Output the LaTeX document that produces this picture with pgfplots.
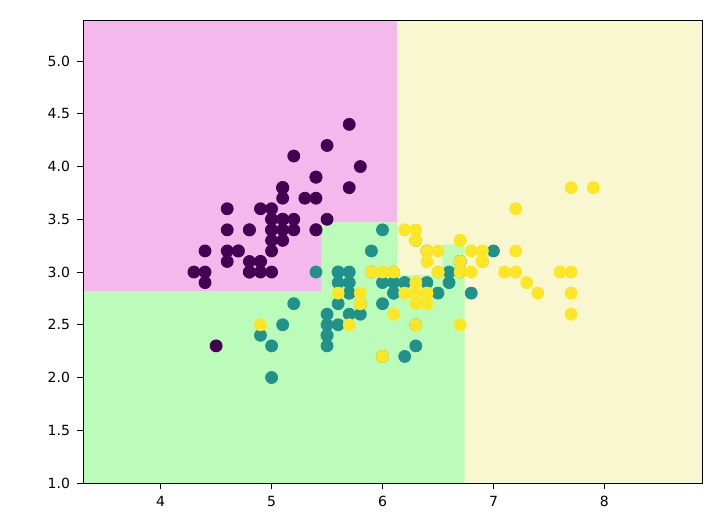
\documentclass[border=0pt]{standalone}
\usepackage{fontspec}
\setmainfont{DejaVu Sans}
\usepackage{pgfplots}
\pgfplotsset{compat=1.18}
\definecolor{regA}{HTML}{F4B8EC}
\definecolor{regB}{HTML}{BBFCBB}
\definecolor{regC}{HTML}{F9F7CF}
\definecolor{c0}{HTML}{440154}
\definecolor{c1}{HTML}{21918C}
\definecolor{c2}{HTML}{FDE725}
\begin{document}
\begin{tikzpicture}
\begin{axis}[name=ax, scale only axis, width=309.5pt, height=231pt,
  xmin=3.3, xmax=8.88, ymin=1, ymax=5.38,
  xtick={4,5,6,7,8}, ytick={1,1.5,2,2.5,3,3.5,4,4.5,5},
  yticklabel style={/pgf/number format/.cd, fixed, fixed zerofill, precision=1},
  tick align=outside, tick pos=left, major tick length=3pt,
  tick style={black, line width=0.5pt},
  axis line style={line width=0.5pt},
  ticklabel style={font=\fontsize{7}{8}\selectfont},
  /pgf/number format/assume math mode=true,
  axis background/.style={fill=regC},
  axis on top,
  clip=true]
\addplot[fill=regA, draw=none] coordinates {(3.3,2.82) (5.45,2.82) (5.45,3.47) (6.13,3.47) (6.13,5.38) (3.3,5.38)} -- cycle;
\addplot[fill=regB, draw=none] coordinates {(3.3,1) (6.74,1) (6.74,3.26) (6.54,3.26) (6.54,2.97) (6.13,2.97) (6.13,3.47) (5.45,3.47) (5.45,2.82) (3.3,2.82)} -- cycle;
\addplot[only marks, mark=*, mark size=3pt, mark options={fill=c0, draw=c0}] coordinates {
(5.1,3.5) (4.9,3.0) (4.7,3.2) (4.6,3.1) (5.0,3.6) (5.4,3.9) (4.6,3.4) (5.0,3.4) (4.4,2.9) (4.9,3.1)
(5.4,3.7) (4.8,3.4) (4.8,3.0) (4.3,3.0) (5.8,4.0) (5.7,4.4) (5.4,3.9) (5.1,3.5) (5.7,3.8) (5.1,3.8)
(5.4,3.4) (5.1,3.7) (4.6,3.6) (5.1,3.3) (4.8,3.4) (5.0,3.0) (5.0,3.4) (5.2,3.5) (5.2,3.4) (4.7,3.2)
(4.8,3.1) (5.4,3.4) (5.2,4.1) (5.5,4.2) (4.9,3.1) (5.0,3.2) (5.5,3.5) (4.9,3.6) (4.4,3.0) (5.1,3.4)
(5.0,3.5) (4.5,2.3) (4.4,3.2) (5.0,3.5) (5.1,3.8) (4.8,3.0) (5.1,3.8) (4.6,3.2) (5.3,3.7) (5.0,3.3)};
\addplot[only marks, mark=*, mark size=3pt, mark options={fill=c1, draw=c1}] coordinates {
(7.0,3.2) (6.4,3.2) (6.9,3.1) (5.5,2.3) (6.5,2.8) (5.7,2.8) (6.3,3.3) (4.9,2.4) (6.6,2.9) (5.2,2.7)
(5.0,2.0) (5.9,3.0) (6.0,2.2) (6.1,2.9) (5.6,2.9) (6.7,3.1) (5.6,3.0) (5.8,2.7) (6.2,2.2) (5.6,2.5)
(5.9,3.2) (6.1,2.8) (6.3,2.5) (6.1,2.8) (6.4,2.9) (6.6,3.0) (6.8,2.8) (6.7,3.0) (6.0,2.9) (5.7,2.6)
(5.5,2.4) (5.5,2.4) (5.8,2.7) (6.0,2.7) (5.4,3.0) (6.0,3.4) (6.7,3.1) (6.3,2.3) (5.6,3.0) (5.5,2.5)
(5.5,2.6) (6.1,3.0) (5.8,2.6) (5.0,2.3) (5.6,2.7) (5.7,3.0) (5.7,2.9) (6.2,2.9) (5.1,2.5) (5.7,2.8)};
\addplot[only marks, mark=*, mark size=3pt, mark options={fill=c2, draw=c2}] coordinates {
(6.3,3.3) (5.8,2.7) (7.1,3.0) (6.3,2.9) (6.5,3.0) (7.6,3.0) (4.9,2.5) (7.3,2.9) (6.7,2.5) (7.2,3.6)
(6.5,3.2) (6.4,2.7) (6.8,3.0) (5.7,2.5) (5.8,2.8) (6.4,3.2) (6.5,3.0) (7.7,3.8) (7.7,2.6) (6.0,2.2)
(6.9,3.2) (5.6,2.8) (7.7,2.8) (6.3,2.7) (6.7,3.3) (7.2,3.2) (6.2,2.8) (6.1,3.0) (6.4,2.8) (7.2,3.0)
(7.4,2.8) (7.9,3.8) (6.4,2.8) (6.3,2.8) (6.1,2.6) (7.7,3.0) (6.3,3.4) (6.4,3.1) (6.0,3.0) (6.9,3.1)
(6.7,3.1) (6.9,3.1) (5.8,2.7) (6.8,3.2) (6.7,3.3) (6.7,3.0) (6.3,2.5) (6.5,3.0) (6.2,3.4) (5.9,3.0)};
\end{axis}
\pgfresetboundingbox
\path[use as bounding box] (ax.south west) ++(-41.5pt,-23pt) rectangle ([shift={(12pt,10.5pt)}]ax.north east);
\end{tikzpicture}
\end{document}
